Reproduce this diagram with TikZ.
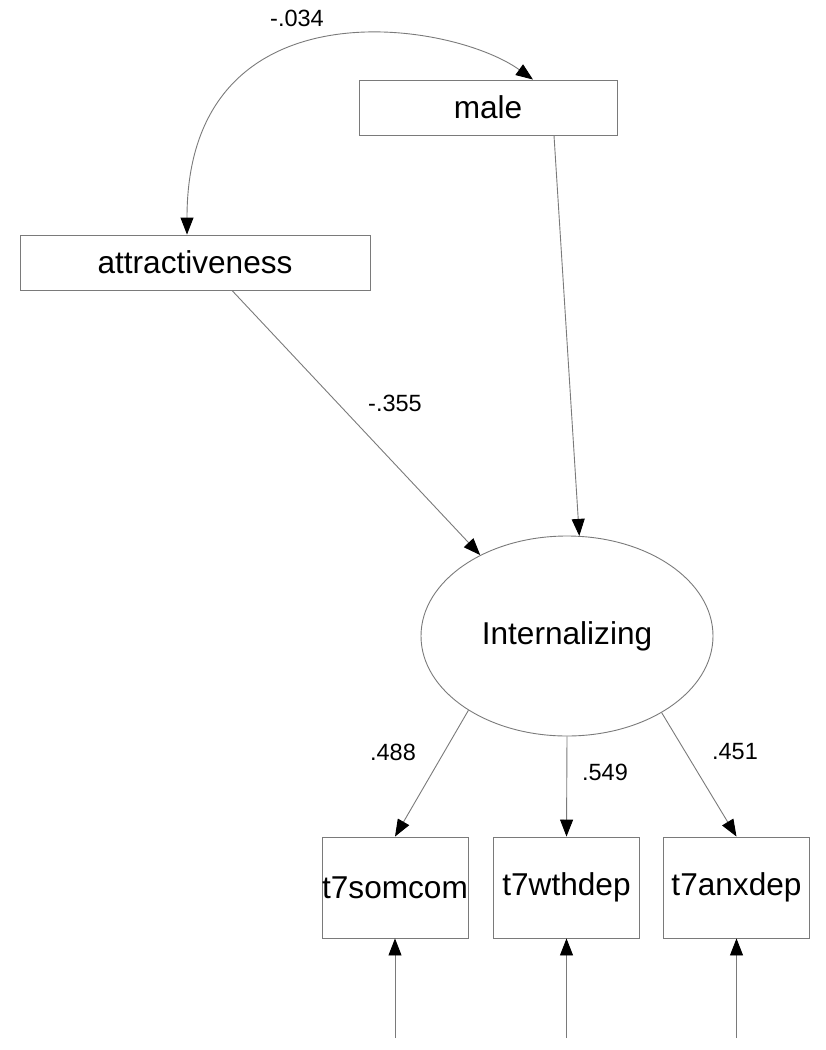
\documentclass[tikz,border=0pt]{standalone}
\usepackage{fontspec}
\setmainfont{Liberation Sans}
\usetikzlibrary{arrows.meta,shapes.geometric}
\definecolor{linegray}{HTML}{7A7A7A}
\begin{document}
\begin{tikzpicture}[x=1pt,y=-1pt,
  obsbox/.style={draw=linegray,line width=0.9pt,rectangle,inner sep=0pt,font=\fontsize{31.6}{36}\selectfont},
  latent/.style={draw=linegray,line width=0.9pt,ellipse,inner sep=0pt,minimum width=292pt,minimum height=200pt,font=\fontsize{31.6}{36}\selectfont},
  coef/.style={font=\fontsize{23.5}{28}\selectfont,inner sep=0pt},
  tip/.style={Triangle[length=17pt,width=13pt,color=black]},
  path/.style={draw=linegray,line width=0.9pt,-{Triangle[length=17pt,width=13pt,color=black]}}
]
\useasboundingbox (0,0) rectangle (825,1050);
\node[obsbox,minimum width=258pt,minimum height=55pt] (male) at (488,107.5) {male};
\node[obsbox,minimum width=350pt,minimum height=55pt] (attr) at (195,262.5) {attractiveness};
\node[latent] (ell) at (567,636) {Internalizing};
\node[obsbox,minimum width=146pt,minimum height=101pt] (som) at (395,887.5) {t7somcom};
\node[obsbox,minimum width=146pt,minimum height=101pt] (wth) at (566.5,887.5) {t7wthdep};
\node[obsbox,minimum width=146pt,minimum height=101pt] (anx) at (736.5,887.5) {t7anxdep};
\coordinate (e1) at (395,1038);
\coordinate (e2) at (566.5,1038);
\coordinate (e3) at (736.5,1038);

% covariance
\draw[draw=linegray,line width=0.9pt,{Triangle[length=17pt,width=13pt,color=black]}-{Triangle[length=17pt,width=13pt,color=black]}]
  ([xshift=-8pt]attr.north) .. controls (187,-20) and (450,20) .. ([xshift=45pt]male.north);
\node[coef] (c034) at (297,18) {-.034};

% regressions
\draw[path] ([xshift=66pt]male.south) -- (ell.83.7);
\draw[path] ([xshift=37pt]attr.south) -- (ell.137);
\node[coef] (c355) at (395,403) {-.355};

% loadings
\draw[path] (ell.217.8) -- (som.north);
\draw[path] (ell.south) -- (wth.north);
\draw[path] (ell.321.3) -- (anx.north);
\node[coef] (c488) at (393,752) {.488};
\node[coef] (c549) at (605,772) {.549};
\node[coef] (c451) at (735,752) {.451};

% errors
\draw[path] (e1) -- (som.south);
\draw[path] (e2) -- (wth.south);
\draw[path] (e3) -- (anx.south);
\end{tikzpicture}
\end{document}
